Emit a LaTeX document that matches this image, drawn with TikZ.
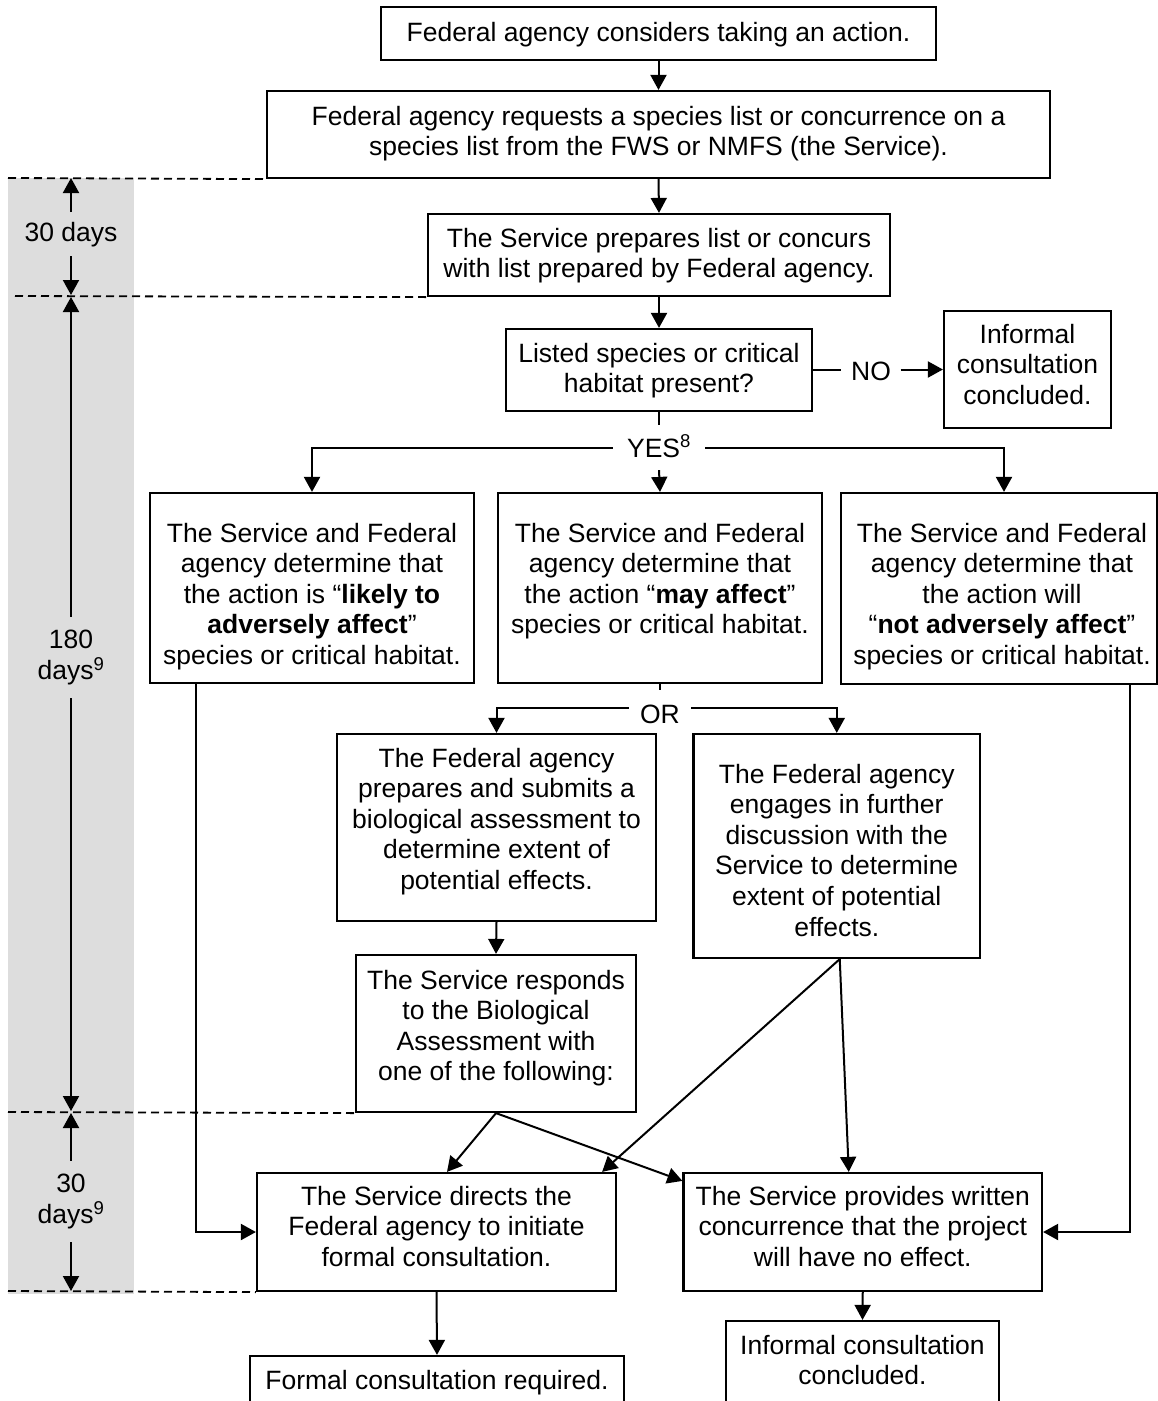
\documentclass[tikz,border=0pt]{standalone}
\usepackage{fontspec}
\setmainfont{Liberation Sans}
\usetikzlibrary{arrows.meta}
\definecolor{bandgray}{RGB}{221,221,221}
\newcommand{\mlines}[1]{\begin{tabular}[t]{@{}c@{}}#1\end{tabular}}
\begin{document}
\begin{tikzpicture}[x=1pt,y=-1pt,
  every node/.style={font=\fontsize{26.5}{30.6}\selectfont},
  box/.style={draw, line width=2.2pt, inner sep=0pt},
  txt/.style={inner sep=0pt, anchor=base},
  lbl/.style={text height=19pt, text depth=0pt, anchor=base},
  conn/.style={line width=2pt},
  arr/.style={conn, -{Triangle[length=15pt,width=16pt]}},
  dashln/.style={line width=1.8pt, dash pattern=on 8pt off 5pt},
]
\useasboundingbox (0,0) rectangle (1158,1401);
\clip (0,0) rectangle (1158,1401);

% time band
\fill[bandgray] (8,178) rectangle (134,1294);

% boxes
\node[box, minimum width=555pt, minimum height=53pt]  (b1) at (658.5,33.5) {};
\node[box, minimum width=783pt, minimum height=87pt]  (b2) at (658.5,134.5) {};
\node[box, minimum width=462pt, minimum height=82pt]  (b3) at (659,255) {};
\node[box, minimum width=306pt, minimum height=82pt]  (b4) at (659,370) {};
\node[box, minimum width=167pt, minimum height=117pt] (nobox) at (1027.5,369.5) {};
\node[box, minimum width=324pt, minimum height=190pt] (left) at (312,588) {};
\node[box, minimum width=324pt, minimum height=190pt] (mid) at (660,588) {};
\node[box, minimum width=316pt, minimum height=191pt] (right) at (999,588.5) {};
\node[box, minimum width=319pt, minimum height=187pt] (BA) at (496.5,827.5) {};
\node[box, minimum width=286.5pt, minimum height=224pt] (FD) at (836.75,846) {};
\node[box, minimum width=280pt, minimum height=157pt] (SR) at (496,1033.5) {};
\node[box, minimum width=359pt, minimum height=118pt] (DF) at (436.5,1232) {};
\node[box, minimum width=358.5pt, minimum height=118pt] (PW) at (862.75,1232) {};
\node[box, minimum width=374pt, minimum height=64pt] (FCR) at (437,1388) {};
\node[box, minimum width=273pt, minimum height=99pt] (ICC) at (862.5,1370.5) {};

% texts
\node[txt] (t1) at (658.5,41) {Federal agency considers taking an action.};
\node[txt] (t2) at (658.5,125) {\mlines{Federal agency requests a species list or concurrence on a\\species list from the FWS or NMFS (the Service).}};
\node[txt] (t3) at (659,247) {\mlines{The Service prepares list or concurs\\with list prepared by Federal agency.}};
\node[txt] (t4) at (659,362) {\mlines{Listed species or critical\\habitat present?}};
\node[txt] (tno) at (1027.5,343) {\mlines{Informal\\consultation\\concluded.}};
\node[txt] (tl) at (312,542) {\mlines{The Service and Federal\\agency determine that\\the action is “\textbf{likely to}\\\textbf{adversely affect}”\\species or critical habitat.}};
\node[txt] (tm) at (660,542) {\mlines{The Service and Federal\\agency determine that\\the action “\textbf{may affect}”\\species or critical habitat.}};
\node[txt] (tr) at (1002,542) {\mlines{The Service and Federal\\agency determine that\\the action will\\“\textbf{not adversely affect}”\\species or critical habitat.}};
\node[txt] (tba) at (496.5,767) {\mlines{The Federal agency\\prepares and submits a\\biological assessment to\\determine extent of\\potential effects.}};
\node[txt] (tfd) at (836.75,783) {\mlines{The Federal agency\\engages in further\\discussion with the\\Service to determine\\extent of potential\\effects.}};
\node[txt] (tsr) at (496,989) {\mlines{The Service responds\\to the Biological\\Assessment with\\one of the following:}};
\node[txt] (tdf) at (436.5,1205) {\mlines{The Service directs the\\Federal agency to initiate\\formal consultation.}};
\node[txt] (tpw) at (862.75,1205) {\mlines{The Service provides written\\concurrence that the project\\will have no effect.}};
\node[txt] (tfcr) at (437,1389) {Formal consultation required.};
\node[txt] (ticc) at (862.5,1354) {\mlines{Informal consultation\\concluded.}};

% branch labels
\node[lbl, inner ysep=0pt, inner xsep=9.5pt] (no) at (871,380) {NO};
\node[lbl, inner ysep=13pt, inner xsep=14pt] (yes) at (659,457) {YES\textsuperscript{8}};
\node[lbl, inner ysep=14pt, inner xsep=11pt] (or) at (660,723) {OR};

% main connectors
\draw[arr] (b1.south) -- (b2.north);
\draw[arr] (b2.south) -- (b3.north);
\draw[arr] (b3.south) -- (b4.north);
\draw[conn] (b4.east) -- (b4.east -| no.west);
\draw[arr] (no.east |- nobox.west) -- (nobox.west);
\draw[conn] (b4.south) -- (yes.north);
\draw[arr] (yes.south) -- (mid.north);
\draw[arr] (yes.west) -| (left.north);
\draw[arr] (yes.east) -| ([xshift=5pt]right.north);
\draw[conn] (mid.south) -- (or.north);
\draw[arr] ([yshift=5.5pt]or.west) -| (BA.north);
\draw[arr] ([yshift=5.5pt]or.east) -| (FD.north);
\draw[arr] (BA.south) -- (SR.north);
\draw[arr] (SR.south) -- ([xshift=10.5pt]DF.north);
\draw[arr] (SR.south) -- ([yshift=-9pt]PW.north west);
\draw[arr] ([xshift=3pt]FD.south) -- ([xshift=-15pt]DF.north east);
\draw[arr] ([xshift=3pt]FD.south) -- ([xshift=-14pt]PW.north);
\draw[arr] ([xshift=47pt]left.south west) |- (DF.west);
\draw[arr] ([xshift=-28.5pt]right.south east) |- (PW.east);
\draw[arr] (DF.south) -- (FCR.north);
\draw[arr] (PW.south) -- (ICC.north);

% timeline dashed lines
\coordinate (dA) at (8,178);
\coordinate (dB) at (15,296);
\coordinate (dC) at (8,1112);
\coordinate (dD) at (8,1291);
\draw[dashln] (dA) -- (b2.south west);
\draw[dashln] (dB) -- (b3.south west);
\draw[dashln] (dC) -- (SR.south west);
\draw[dashln] (dD) -- (DF.south west);

% timeline labels and arrows
\coordinate (m1) at (71,178);
\coordinate (m2a) at (71,295);
\coordinate (m2b) at (71,297);
\coordinate (m3a) at (71,1111);
\coordinate (m3b) at (71,1113);
\coordinate (m4) at (71,1291);
\node[txt, inner ysep=9.5pt] (p30a) at (71,241) {30 days};
\node[txt, inner ysep=9.5pt] (p180) at (71,648) {\mlines{180\\days\textsuperscript{9}}};
\node[txt, inner ysep=9.5pt] (p30b) at (71,1192) {\mlines{30\\days\textsuperscript{9}}};
\draw[arr] (p30a.north) -- (m1);
\draw[arr] (p30a.south) -- (m2a);
\draw[arr] (p180.north) -- (m2b);
\draw[arr] (p180.south) -- (m3a);
\draw[arr] (p30b.north) -- (m3b);
\draw[arr] (p30b.south) -- (m4);
\end{tikzpicture}
\end{document}
